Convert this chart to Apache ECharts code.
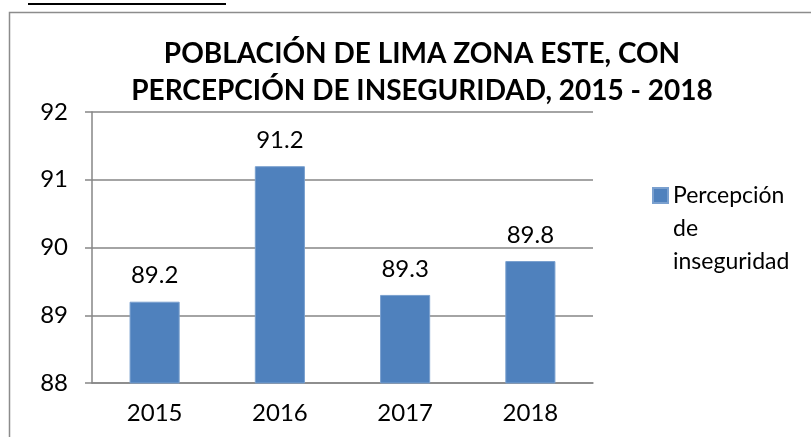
<!DOCTYPE html>
<html>
<head>
<meta charset="utf-8">
<script src="https://cdn.jsdelivr.net/npm/echarts@6/dist/echarts.min.js"></script>
<style>
    html, body { margin: 0; padding: 0; background: #fff; }
    #chart { width: 811px; height: 437px; }
</style>
</head>
<body>
<div id="chart"></div>
<script>
(function () {

    'use strict';

    var years = ['2015', '2016', '2017', '2018'];
    var values = [89.2, 91.2, 89.3, 89.8];
    var seriesName = 'Percepción de inseguridad';
    var titleText = 'POBLACIÓN DE LIMA ZONA ESTE, CON\nPERCEPCIÓN DE INSEGURIDAD, 2015 - 2018';

    var font = 'Lato, "Open Sans", sans-serif';
    var chart = echarts.init(document.getElementById('chart'));

    var option = {
        animation: false,
        textStyle: { fontFamily: font },
        title: {
            text: titleText,
            left: 417,
            top: 30,
            textAlign: 'center',
            textStyle: {
                fontFamily: font,
                fontWeight: 'bold',
                fontSize: 28,
                lineHeight: 37,
                color: '#000'
            }
        },
        legend: {
            data: [seriesName],
            left: 652,
            top: 113,
            padding: 0,
            icon: 'rect',
            itemWidth: 15,
            itemHeight: 15,
            itemGap: 5,
            // two blank lines on top keep the square level with the first line
            formatter: function () {
                return '\n\nPercepción\nde\ninseguridad';
            },
            textStyle: {
                fontFamily: font,
                fontSize: 23,
                lineHeight: 33,
                color: '#000'
            }
        },
        grid: {
            left: 92,
            right: 218,
            top: 112,
            bottom: 54
        },
        xAxis: {
            type: 'category',
            data: years,
            axisLine: { lineStyle: { color: '#868686', width: 1.5 } },
            axisTick: { length: 8, lineStyle: { color: '#868686', width: 1.5 } },
            axisLabel: { fontFamily: font, fontSize: 24, color: '#000', margin: 18 }
        },
        yAxis: {
            type: 'value',
            min: 88,
            max: 92,
            interval: 1,
            axisLine: { show: true, lineStyle: { color: '#868686', width: 1.5 } },
            axisTick: { show: true, inside: false, length: 7, lineStyle: { color: '#868686', width: 1.5 } },
            splitLine: { lineStyle: { color: '#868686', width: 1.5 } },
            axisLabel: { fontFamily: font, fontSize: 24, color: '#000', margin: 24 }
        },
        series: [{
            name: seriesName,
            type: 'bar',
            data: values,
            barWidth: '40%',
            itemStyle: { color: '#4F81BD', borderColor: '#7aa0cf', borderWidth: 1 },
            label: {
                show: true,
                position: 'top',
                distance: 14,
                fontFamily: font,
                fontSize: 24,
                color: '#000'
            }
        }],
        graphic: [
            {
                type: 'rect',
                shape: { x: 9.5, y: 12.5, width: 820, height: 440 },
                style: { fill: 'none', stroke: '#8c8c8c', lineWidth: 1.5 },
                silent: true
            },
            {
                type: 'line',
                shape: { x1: 28, y1: 4, x2: 226, y2: 4 },
                style: { stroke: '#000', lineWidth: 2 },
                silent: true
            }
        ]
    };

    chart.setOption(option);
})();
</script>
</body>
</html>
